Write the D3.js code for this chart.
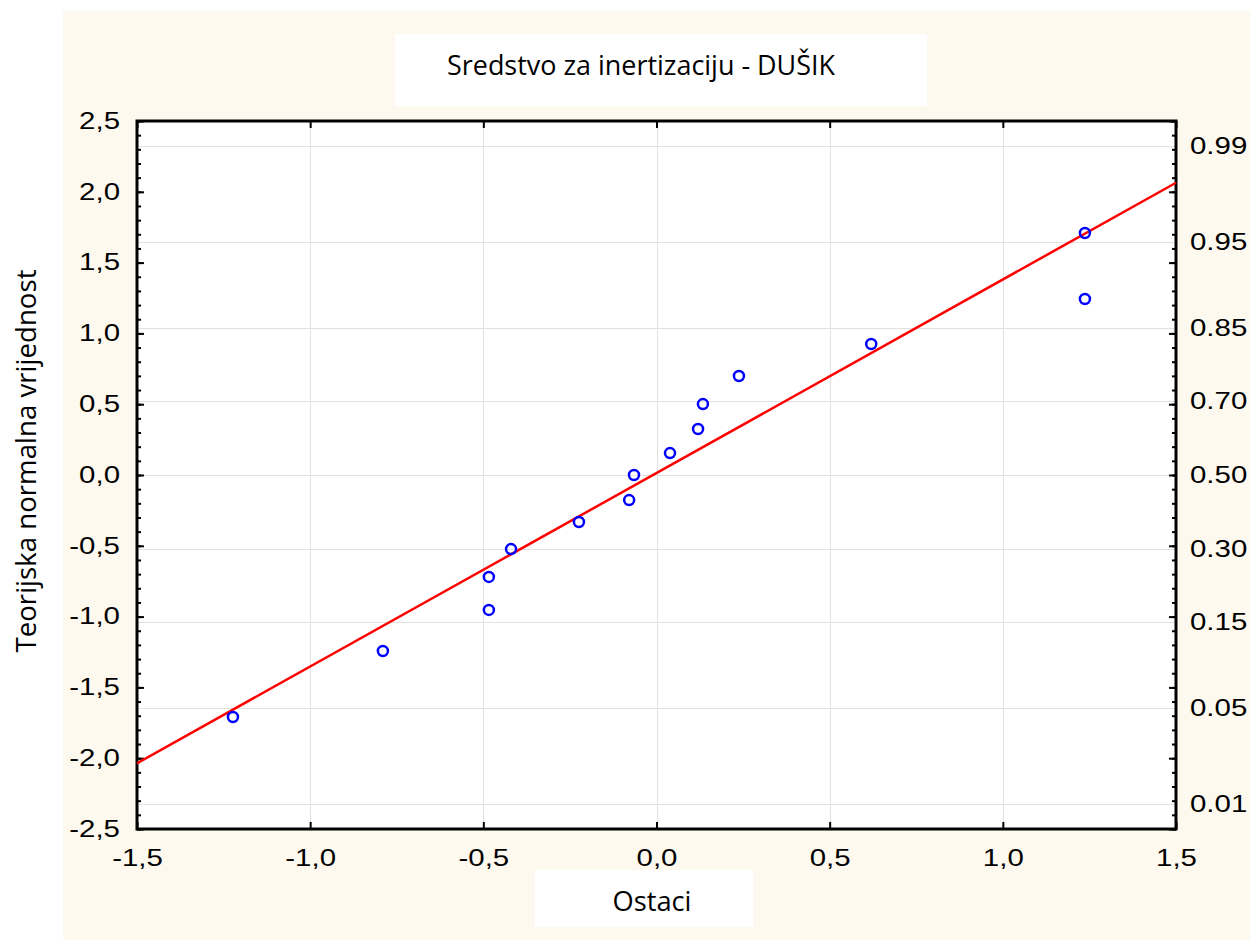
<!DOCTYPE html>
<html>
<head>
<meta charset="utf-8">
<script src="https://cdn.jsdelivr.net/npm/d3@7"></script>
<style>
  body { margin: 0; background: #fff; }
  svg { display: block; }
</style>
</head>
<body>
<svg width="1250" height="942"></svg>
<script>
// residuals (x) and theoretical normal values (y)
var residuals = [-1.223, -0.790, -0.484, -0.484, -0.420, -0.224, -0.079, -0.065,
                 0.039, 0.120, 0.134, 0.238, 0.620, 1.237, 1.237];
var normalValues = [-1.709, -1.243, -0.953, -0.720, -0.523, -0.332, -0.177, 0.000,
                    0.155, 0.325, 0.501, 0.699, 0.925, 1.243, 1.709];

// fitted line end points
var lineX = [-1.5, 1.5];
var lineY = [-2.036, 2.064];

// right axis: probabilities and where they sit on the z scale
var probLabels = ["0.01", "0.05", "0.15", "0.30", "0.50", "0.70", "0.85", "0.95", "0.99"];
var probZ = [-2.326, -1.645, -1.036, -0.524, 0, 0.524, 1.036, 1.645, 2.326];

var xTicks = [-1.5, -1.0, -0.5, 0.0, 0.5, 1.0, 1.5];
var yTicks = [-2.5, -2.0, -1.5, -1.0, -0.5, 0.0, 0.5, 1.0, 1.5, 2.0, 2.5];
var yMinor = d3.range(-25, 26).map(function(d) { return d / 10; });

var svg = d3.select("svg");

var plotLeft = 137, plotRight = 1176, plotTop = 121, plotBottom = 829;

var x = d3.scaleLinear().domain([-1.5, 1.5]).range([plotLeft, plotRight]);
var y = d3.scaleLinear().domain([-2.5, 2.5]).range([plotBottom, plotTop]);

var locale = d3.formatLocale({ decimal: ",", thousands: ".", grouping: [3], currency: ["", ""], minus: "-" });
var fmt = locale.format(".1f");

var sx = 1.28; // tick labels in the picture are stretched sideways

// backgrounds
svg.append("rect").attr("x", 63).attr("y", 11).attr("width", 1187).attr("height", 929)
    .attr("fill", "#fef9ee");
svg.append("rect").attr("x", 395).attr("y", 34).attr("width", 532).attr("height", 72)
    .attr("fill", "#fff");
svg.append("rect").attr("x", 535).attr("y", 870).attr("width", 218).attr("height", 57)
    .attr("fill", "#fff");
svg.append("rect").attr("x", plotLeft).attr("y", plotTop)
    .attr("width", plotRight - plotLeft).attr("height", plotBottom - plotTop)
    .attr("fill", "#fff");

// grid
var grid = svg.append("g").attr("stroke", "#e1e1e1").attr("stroke-width", 1);
grid.selectAll("line.h")
    .data(probZ)
    .enter()
    .append("line")
    .attr("class", "h")
    .attr("x1", plotLeft).attr("x2", plotRight)
    .attr("y1", function(d) { return Math.round(y(d)) + 0.5; })
    .attr("y2", function(d) { return Math.round(y(d)) + 0.5; });
grid.selectAll("line.v")
    .data([-1.0, -0.5, 0.0, 0.5, 1.0])
    .enter()
    .append("line")
    .attr("class", "v")
    .attr("y1", plotTop).attr("y2", plotBottom)
    .attr("x1", function(d) { return Math.round(x(d)) + 0.5; })
    .attr("x2", function(d) { return Math.round(x(d)) + 0.5; });

function styleAxis(g) {
    g.select(".domain").remove();
    g.selectAll(".tick line").attr("stroke", "#000").attr("stroke-width", 2);
    g.selectAll("text")
        .attr("font-family", "'Liberation Sans', Arial, sans-serif")
        .attr("font-size", 23)
        .attr("fill", "#000");
}

function stretch(g) {
    g.selectAll("text").each(function() {
        var t = d3.select(this);
        var tx = +t.attr("x") || 0;
        t.attr("x", tx / sx).attr("transform", "scale(" + sx + ",1)");
    });
}

// left axis: minor + major
svg.append("g")
    .attr("transform", "translate(" + plotLeft + ",0)")
    .call(d3.axisLeft(y).tickValues(yMinor).tickSize(-4).tickFormat(""))
    .call(styleAxis);
svg.append("g")
    .attr("transform", "translate(" + plotLeft + ",0)")
    .call(d3.axisLeft(y).tickValues(yTicks).tickSize(-7).tickPadding(17).tickFormat(fmt))
    .call(styleAxis)
    .call(stretch);

// right axis: same ticks, probability labels
svg.append("g")
    .attr("transform", "translate(" + plotRight + ",0)")
    .call(d3.axisRight(y).tickValues(yMinor).tickSize(-4).tickFormat(""))
    .call(styleAxis);
svg.append("g")
    .attr("transform", "translate(" + plotRight + ",0)")
    .call(d3.axisRight(y).tickValues(yTicks).tickSize(-7).tickFormat(""))
    .call(styleAxis);
svg.append("g")
    .attr("transform", "translate(" + plotRight + ",0)")
    .call(d3.axisRight(y).tickValues(probZ).tickSize(0).tickPadding(14)
        .tickFormat(function(d, i) { return probLabels[i]; }))
    .call(styleAxis)
    .call(stretch);

// bottom and top axes
svg.append("g")
    .attr("transform", "translate(0," + plotBottom + ")")
    .call(d3.axisBottom(x).tickValues(xTicks).tickSize(-7).tickPadding(21).tickFormat(fmt))
    .call(styleAxis)
    .call(stretch);
svg.append("g")
    .attr("transform", "translate(0," + plotTop + ")")
    .call(d3.axisTop(x).tickValues(xTicks).tickSize(-7).tickFormat(""))
    .call(styleAxis);

// frame
svg.append("rect")
    .attr("x", plotLeft).attr("y", plotTop)
    .attr("width", plotRight - plotLeft).attr("height", plotBottom - plotTop)
    .attr("fill", "none")
    .attr("stroke", "#000")
    .attr("stroke-width", 3);

// fitted line
var plot = svg.append("g");
plot.append("line")
    .attr("x1", x(lineX[0])).attr("y1", y(lineY[0]))
    .attr("x2", x(lineX[1])).attr("y2", y(lineY[1]))
    .attr("stroke", "#ff0000")
    .attr("stroke-width", 2.5);

// points
plot.selectAll("circle")
    .data(residuals)
    .enter()
    .append("circle")
    .attr("cx", function(d) { return x(d); })
    .attr("cy", function(d, i) { return y(normalValues[i]); })
    .attr("r", 5)
    .attr("fill", "none")
    .attr("stroke", "#0000ff")
    .attr("stroke-width", 2.5);

// titles
var labelFont = "'Open Sans', 'Noto Sans', sans-serif";
svg.append("text")
    .attr("x", 641).attr("y", 75)
    .attr("text-anchor", "middle")
    .attr("font-family", labelFont)
    .attr("font-size", 27)
    .attr("textLength", 388)
    .attr("lengthAdjust", "spacingAndGlyphs")
    .text("Sredstvo za inertizaciju - DUŠIK");

svg.append("text")
    .attr("x", 652).attr("y", 911)
    .attr("text-anchor", "middle")
    .attr("font-family", labelFont)
    .attr("font-size", 28)
    .attr("textLength", 79)
    .attr("lengthAdjust", "spacingAndGlyphs")
    .text("Ostaci");

svg.append("text")
    .attr("transform", "translate(36,461) rotate(-90)")
    .attr("text-anchor", "middle")
    .attr("font-family", labelFont)
    .attr("font-size", 28)
    .attr("textLength", 383)
    .attr("lengthAdjust", "spacingAndGlyphs")
    .text("Teorijska normalna vrijednost");
</script>
</body>
</html>
